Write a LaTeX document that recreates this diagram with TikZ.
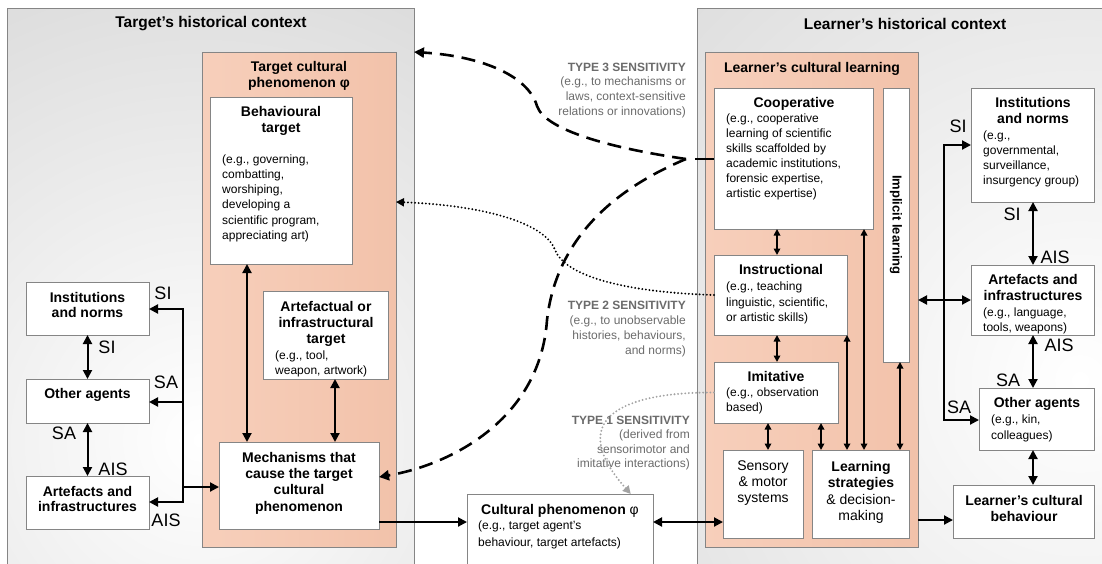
\documentclass[tikz,border=0pt]{standalone}
\usepackage{fontspec}
\setmainfont{Liberation Sans}
\usetikzlibrary{arrows.meta}
\definecolor{edge}{HTML}{858585}
\definecolor{panelgray}{HTML}{DADADA}
\definecolor{salmonL}{HTML}{F7CFBB}
\definecolor{salmonR}{HTML}{F2C2AA}
\definecolor{labelgray}{HTML}{6B6B6B}
\definecolor{dotgray}{HTML}{A3A3A3}
\newcommand\mkbox[6][box]{\node[#1, minimum width={#5-#3}, minimum height={#6-#4}] (#2) at (#3,#4) {};}
\begin{document}
\begin{tikzpicture}[x=1pt,y=-1pt,
  box/.style={draw=edge, line width=0.9pt, fill=white, anchor=north west, inner sep=0pt, outer sep=0pt},
  salmon/.style={box, left color=salmonL, right color=salmonR},
  panel/.style={draw=edge, line width=0.9pt, anchor=north west, inner sep=0pt, outer sep=0pt},
  title/.style={font=\fontsize{15.5}{18}\selectfont\bfseries, inner sep=0pt},
  hd/.style={font=\fontsize{14}{16}\selectfont\bfseries, align=center, inner sep=0pt, anchor=north},
  bd/.style={font=\fontsize{12}{15}\selectfont, align=left, inner sep=0pt, anchor=north west},
  sens/.style={font=\fontsize{12}{14.8}\selectfont, text=labelgray, align=right, inner sep=0pt, anchor=north east},
  lab/.style={font=\fontsize{18}{20}\selectfont, inner sep=0pt},
  arr/.style={line width=2pt, -{Triangle[length=9pt,width=9pt]}},
  dbl/.style={line width=2pt, {Triangle[length=9pt,width=9pt]}-{Triangle[length=9pt,width=9pt]}},
  sdbl/.style={line width=1.7pt, {Triangle[length=6.5pt,width=6.5pt]}-{Triangle[length=6.5pt,width=6.5pt]}},
  bus/.style={line width=2pt, line cap=rect},
  longdash/.style={line width=2.6pt, dash pattern=on 14pt off 8pt, -{Triangle[length=10pt,width=10pt]}},
  dots/.style={line width=2.1pt, line cap=round, dash pattern=on 0pt off 3.6pt, -{Triangle[length=8pt,width=8pt]}},
]
\useasboundingbox (0,0) rectangle (1102,563);
\clip (0,0) rectangle (1102,563);

% ---- panel backgrounds ----
\begin{scope}
  \clip (7,8) rectangle (414,580);
  \fill[panelgray] (7,8) rectangle (414,580);
  \shade[inner color=white, outer color=panelgray] (200,440) circle (520);
\end{scope}
\begin{scope}
  \clip (697,8) rectangle (1110,580);
  \fill[panelgray] (697,8) rectangle (1110,580);
  \shade[inner color=white, outer color=panelgray] (1080,380) circle (620);
\end{scope}
\mkbox[panel]{tpanel}{7}{8}{414}{580}
\mkbox[panel]{lpanel}{697}{8}{1110}{580}
\node[title] (tpanel-t) at (211,24) {Target’s historical context};
\node[title] (lpanel-t) at (905,24) {Learner’s historical context};

% ---- target side ----
\mkbox[salmon]{tcp}{202}{52}{396}{547}
\node[hd] (tcp-t) at (299,60.5) {\strut Target cultural\\phenomenon φ};
\mkbox{bt}{210}{97}{352}{264}
\node[hd] (bt-t) at (281,105.5) {\strut Behavioural\\target};
\node[bd, font=\fontsize{12}{15.2}\selectfont] (bt-b) at (222,152.5) {\strut (e.g., governing,\\combatting,\\worshiping,\\developing a\\scientific program,\\appreciating art)};
\mkbox{at}{263}{291}{388}{379}
\node[hd] (at-t) at (326,300) {\strut Artefactual or\\infrastructural\\target};
\node[bd] (at-b) at (275,348.5) {\strut (e.g., tool,\\weapon, artwork)};
\mkbox{mech}{219}{442}{379}{529}
\node[hd, font=\fontsize{14}{16.3}\selectfont\bfseries] (mech-t) at (299,450.5) {\strut Mechanisms that\\cause the target\\cultural\\phenomenon};

\mkbox{tin}{26}{282}{149}{335}
\node[hd, font=\fontsize{14}{15}\selectfont\bfseries] (tin-t) at (87.5,291.5) {\strut Institutions\\and norms};
\mkbox{toa}{26}{379}{149}{423}
\node[hd] (toa-t) at (87.5,387.5) {\strut Other agents};
\mkbox{tai}{26}{476}{149}{529}
\node[hd, font=\fontsize{14}{15}\selectfont\bfseries] (tai-t) at (87.5,485.5) {\strut Artefacts and\\infrastructures};

% ---- cultural phenomenon ----
\mkbox{cp}{467}{494}{653}{580}
\node[hd] (cp-t) at (560,503.5) {\strut Cultural phenomenon \normalfont φ};
\node[bd, font=\fontsize{12}{16.5}\selectfont] (cp-b) at (478,518) {\strut (e.g., target agent’s\\behaviour, target artefacts)};

% ---- learner side ----
\mkbox[salmon]{lcl}{705}{52}{918}{547}
\node[hd] (lcl-t) at (812,61.5) {\strut Learner’s cultural learning};
\mkbox{coop}{714}{88}{873}{229}
\node[hd] (coop-t) at (794,96.5) {\strut Cooperative};
\node[bd] (coop-b) at (726,111.5) {\strut (e.g., cooperative\\learning of scientific\\skills scaffolded by\\academic institutions,\\forensic expertise,\\artistic expertise)};
\mkbox{impl}{883}{88}{909}{362}
\node[font=\fontsize{13}{15}\selectfont\bfseries, rotate=-90, inner sep=0pt] (impl-t) at (896,225) {Implicit learning};
\mkbox{instr}{714}{255}{847}{335}
\node[hd] (instr-t) at (781,263.5) {\strut Instructional};
\node[bd, font=\fontsize{12}{15.5}\selectfont] (instr-b) at (726,279.5) {\strut (e.g., teaching\\linguistic, scientific,\\or artistic skills)};
\mkbox{imit}{714}{362}{838}{423}
\node[hd] (imit-t) at (776,370.5) {\strut Imitative};
\node[bd] (imit-b) at (726,385.5) {\strut (e.g., observation\\based)};
\mkbox{sens}{723}{450}{803}{538}
\node[hd, font=\fontsize{14}{16}\selectfont] (sens-t) at (763,459.5) {\strut Sensory\\\& motor\\systems};
\mkbox{lstr}{812}{450}{909}{538}
\node[hd, font=\fontsize{14}{16.5}\selectfont] (lstr-t) at (861,459.5) {\strut\textbf{Learning}\\\textbf{strategies}\\\& decision-\\making};

\mkbox{rin}{971}{88}{1094}{202}
\node[hd] (rin-t) at (1033,96.5) {\strut Institutions\\and norms};
\node[bd] (rin-b) at (983,129) {\strut (e.g.,\\governmental,\\surveillance,\\insurgency group)};
\mkbox{rai}{971}{265}{1094}{335}
\node[hd, font=\fontsize{14}{15.5}\selectfont\bfseries] (rai-t) at (1033,273.5) {\strut Artefacts and\\infrastructures};
\node[bd] (rai-b) at (983,305.5) {\strut (e.g., language,\\tools, weapons)};
\mkbox{roa}{979}{388}{1094}{450}
\node[hd] (roa-t) at (1037,396.5) {\strut Other agents};
\node[bd, font=\fontsize{12}{16}\selectfont] (roa-b) at (991,412.5) {\strut (e.g., kin,\\colleagues)};
\mkbox{lcb}{953}{485}{1094}{538}
\node[hd] (lcb-t) at (1024,494.5) {\strut Learner’s cultural\\behaviour};

% ---- sensitivity labels ----
\node[sens] (s3) at (686,60.5) {\strut\textbf{TYPE 3 SENSITIVITY}\\(e.g., to mechanisms or\\laws, context-sensitive\\relations or innovations)};
\node[sens, font=\fontsize{12}{15}\selectfont] (s2) at (686,298.5) {\strut\textbf{TYPE 2 SENSITIVITY}\\(e.g., to unobservable\\histories, behaviours,\\and norms)};
\node[sens, font=\fontsize{12}{14.5}\selectfont] (s1) at (690,414) {\strut\textbf{TYPE 1 SENSITIVITY}\\(derived from\\sensorimotor and\\imitative interactions)};

% ---- target-side connectors ----
\coordinate (lbT) at (183,309);
\coordinate (lbM) at (183,402);
\coordinate (lbC) at (183,487);
\coordinate (lbB) at (183,502);
\draw[bus] (lbT) -- (lbB);
\draw[arr] (lbT) -- (lbT -| tin.east);
\draw[arr] (lbM) -- (lbM -| toa.east);
\draw[arr] (lbB) -- (lbB -| tai.east);
\draw[arr] (lbC) -- (lbC -| mech.west);
\draw[dbl] (tin.south) -- (toa.north);
\draw[dbl] (toa.south) -- (tai.north);
\coordinate (xbt) at (247,0);
\coordinate (xat) at (335,0);
\draw[dbl] (bt.south -| xbt) -- (mech.north -| xbt);
\draw[dbl] (at.south -| xat) -- (mech.north -| xat);
\coordinate (ycp) at (0,522);
\draw[arr] (mech.east |- ycp) -- (cp.west |- ycp);
\draw[dbl] (cp.east |- ycp) -- (sens.west |- ycp);

\node[lab] (l-si1) at (163,293) {SI};
\node[lab] (l-si2) at (107,347) {SI};
\node[lab] (l-sa1) at (166,382) {SA};
\node[lab] (l-sa2) at (64,433) {SA};
\node[lab] (l-ais1) at (113,469) {AIS};
\node[lab] (l-ais2) at (166,520) {AIS};

% ---- learner-side connectors ----
\coordinate (x777) at (777,0);
\coordinate (x768) at (768,0);
\coordinate (x821) at (821,0);
\coordinate (x847) at (847,0);
\coordinate (x864) at (864,0);
\coordinate (x900) at (900,0);
\draw[sdbl] (coop.south -| x777) -- (instr.north -| x777);
\draw[sdbl] (instr.south -| x777) -- (imit.north -| x777);
\draw[sdbl] (imit.south -| x768) -- (sens.north -| x768);
\draw[sdbl] (imit.south -| x821) -- (lstr.north -| x821);
\draw[sdbl] (instr.south -| x847) -- (lstr.north -| x847);
\draw[sdbl] (coop.south -| x864) -- (lstr.north -| x864);
\draw[sdbl] (impl.south -| x900) -- (lstr.north -| x900);

\coordinate (ylcb) at (0,520);
\draw[arr] (lcl.east |- ylcb) -- (lcb.west |- ylcb);

\coordinate (rbT) at (944,145);
\coordinate (rbB) at (944,420);
\draw[bus] (rbT) -- (rbB);
\draw[arr] (rbT) -- (rbT -| rin.west);
\draw[arr] (rbB) -- (rbB -| roa.west);
\coordinate (yrai) at (0,300);
\draw[dbl] (lcl.east |- yrai) -- (rai.west |- yrai);
\coordinate (x1033) at (1033,0);
\draw[dbl] (rin.south -| x1033) -- (rai.north -| x1033);
\draw[dbl] (rai.south -| x1033) -- (roa.north -| x1033);
\draw[dbl] (roa.south -| x1033) -- (lcb.north -| x1033);

\node[lab] (r-si1) at (958,126) {SI};
\node[lab] (r-si2) at (1012,214) {SI};
\node[lab] (r-ais1) at (1055,257) {AIS};
\node[lab] (r-ais2) at (1059,345) {AIS};
\node[lab] (r-sa1) at (1008,380) {SA};
\node[lab] (r-sa2) at (959,407) {SA};

% ---- sensitivity connectors ----
\coordinate (ystub) at (0,159);
\coordinate (fork) at (686,159);
\coordinate (stubend) at (695,159);
\draw[line width=2.6pt] (coop.west |- ystub) -- (stubend);
\coordinate (y52) at (0,52);
\coordinate (y477) at (0,477);
\coordinate (y202) at (0,202);
\draw[longdash] (fork) .. controls (610,148) and (545,130) .. (537,106)
  .. controls (528,75) and (480,56) .. (tpanel.east |- y52);
\draw[longdash] (fork) .. controls (600,195) and (555,250) .. (547,320)
  .. controls (540,420) and (450,465) .. (mech.east |- y477);
\draw[dots] (instr.west) .. controls (620,292) and (565,275) .. (555,250)
  .. controls (545,222) and (480,205) .. (tcp.east |- y202);
\draw[dots, dotgray] (imit.west) .. controls (620,392) and (565,420) .. (cp.north -| s1.south);
\end{tikzpicture}
\end{document}
